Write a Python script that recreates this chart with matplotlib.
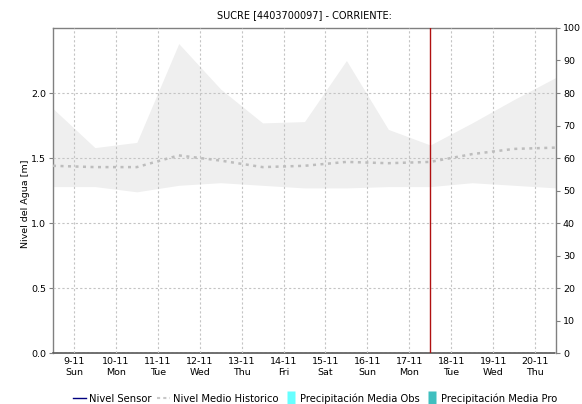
import numpy as np
import matplotlib
matplotlib.use("Agg")
import matplotlib.pyplot as plt
from matplotlib.lines import Line2D

plt.rcParams["font.family"] = ["DejaVu Sans"]

TITLE = "SUCRE [4403700097] - CORRIENTE:"
DAYS = ["9-11", "10-11", "11-11", "12-11", "13-11", "14-11", "15-11",
        "16-11", "17-11", "18-11", "19-11", "20-11"]
WEEKDAYS = ["Sun", "Mon", "Tue", "Wed", "Thu", "Fri", "Sat",
            "Sun", "Mon", "Tue", "Wed", "Thu"]

# historic envelope and mean, sampled at noon of each day (edges at half days)
hist_max = [1.88, 1.58, 1.62, 2.38, 2.03, 1.77, 1.78, 2.25, 1.72, 1.60, 1.77, 1.95, 2.12]
hist_min = [1.28, 1.28, 1.24, 1.29, 1.31, 1.29, 1.27, 1.27, 1.28, 1.28, 1.31, 1.29, 1.27]
hist_mean = [1.44, 1.43, 1.43, 1.52, 1.48, 1.43, 1.44, 1.47, 1.46, 1.47, 1.53, 1.57, 1.58]

NOW = 8.5  # current time marker, in days since 9-11

x_day = np.arange(len(DAYS))
x_hist = np.arange(len(hist_mean)) - 0.5

fig = plt.figure(figsize=(5.82, 4.04), dpi=100)
ax = fig.add_axes([0.0911, 0.1262, 0.8642, 0.8045])

ax.fill_between(x_hist, hist_min, hist_max, color="#efefef", lw=0, zorder=1)
ax.plot(x_hist, hist_mean, color="#bdbdbd", lw=1.8, ls=(0, (1.2, 1.8)), zorder=3)
ax.axvline(NOW, color="#b01010", lw=1.0, zorder=4)

ax.set_xlim(-0.5, 11.5)
ax.set_ylim(0, 2.5)
ax.set_xticks(x_day)
ax.set_xticklabels([f"{d}\n{w}" for d, w in zip(DAYS, WEEKDAYS)], fontsize=6.8,
                   linespacing=1.3)
ax.set_yticks([0.0, 0.5, 1.0, 1.5, 2.0])
ax.set_yticklabels([f"{v:.1f}" for v in [0.0, 0.5, 1.0, 1.5, 2.0]], fontsize=6.8)
ax.grid(True, color="#c4c4c4", ls=(0, (2, 2)), lw=0.8, zorder=2)
ax.set_axisbelow(False)
ax.tick_params(axis="x", length=0, pad=3)
ax.tick_params(axis="y", length=3, width=0.8, color="#808080", pad=2)

for side in ("left", "right", "top"):
    ax.spines[side].set_color("#808080")
    ax.spines[side].set_linewidth(1.0)
ax.spines["bottom"].set_color("#555555")
ax.spines["bottom"].set_linestyle((0, (1, 1)))
ax.spines["bottom"].set_linewidth(1.2)

ax2 = ax.twinx()
ax2.set_ylim(0, 100)
ax2.set_yticks(np.arange(0, 101, 10))
ax2.set_yticklabels([str(v) for v in range(0, 101, 10)], fontsize=6.8)
ax2.tick_params(axis="y", length=3, width=0.8, color="#808080", pad=2)
for side in ("left", "right", "top", "bottom"):
    ax2.spines[side].set_visible(False)

ax.set_title(TITLE, fontsize=7, pad=7)
fig.text(0.043, 0.495, "Nivel del Agua [m]", rotation=90, fontsize=6.8,
         ha="center", va="center")

# narrow upright rectangles for the rainfall swatches
bar_marker = [(-0.3, -0.5), (0.3, -0.5), (0.3, 0.5), (-0.3, 0.5), (-0.3, -0.5)]
handles = [
    Line2D([], [], color="#000080", lw=1.0),
    Line2D([], [], color="#c8c8c8", lw=1.5, ls=(0, (1.5, 1.5))),
    Line2D([], [], ls="none", marker=bar_marker, markersize=10,
           markerfacecolor="#66ffff", markeredgecolor="none"),
    Line2D([], [], ls="none", marker=bar_marker, markersize=10,
           markerfacecolor="#3fbfbf", markeredgecolor="none"),
]
labels = ["Nivel Sensor", "Nivel Medio Historico",
          "Precipitación Media Obs", "Precipitación Media Pro"]
fig.legend(handles, labels, loc="lower center", bbox_to_anchor=(0.542, -0.022),
           ncol=4, frameon=False, fontsize=7.2, handlelength=1.3,
           handletextpad=0.25, columnspacing=0.6, markerscale=1.0)

fig.savefig("out.png", dpi=100)
